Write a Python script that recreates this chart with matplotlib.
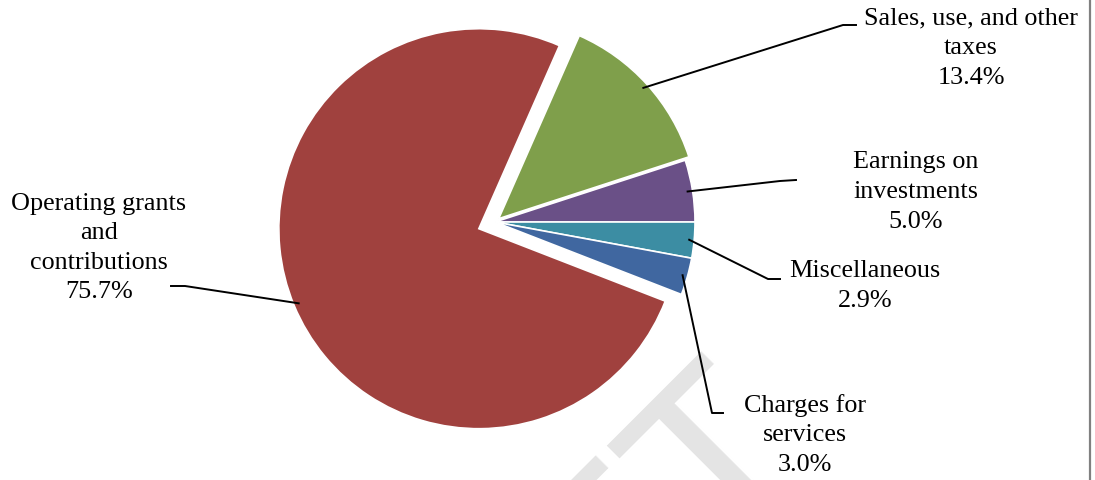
import matplotlib
matplotlib.use('Agg')
import matplotlib.pyplot as plt
import numpy as np

# revenue sources, clockwise from the top
labels = ['Sales, use, and other\ntaxes', 'Earnings on\ninvestments', 'Miscellaneous',
          'Charges for\nservices', 'Operating grants\nand\ncontributions']
shares = [13.4, 5.0, 2.9, 3.0, 75.7]
colors = ['#7F9F4B', '#6A5087', '#3C8DA3', '#4067A0', '#A0413E']
explode = [5, 0, 0, 0, 17.5]  # pixels

# label layout (pixels, y up): text centre, elbow, end of leader
text_pos = [(971, 432), (916, 288), (865, 194), (805, 45), (99, 232)]
elbows = [(843, 455), (780, 299), (768, 201), (712, 67), (185, 194)]
ends = [(856, 455), (796, 300), (780, 201), (723, 67), (171, 194)]

plt.rcParams['font.family'] = ['Liberation Serif', 'DejaVu Serif']

fig = plt.figure(figsize=(10.95, 4.8), dpi=100)
ax = fig.add_axes([0, 0, 1, 1])

# faint watermark
ax.text(694, 154, 'DRAFT', fontsize=170, family='Liberation Sans', color='#E4E4E4',
        rotation=45, rotation_mode='anchor', ha='right', va='top', zorder=0)

wedges, _ = ax.pie(shares, colors=colors, explode=explode, startangle=66.24,
                   counterclock=False, center=(495, 258), radius=200, frame=True,
                   wedgeprops=dict(edgecolor='white', linewidth=1.2))
ax.set_xlim(0, 1095)
ax.set_ylim(0, 480)
ax.axis('off')

for w, lab, s, tp, el, en in zip(wedges, labels, shares, text_pos, elbows, ends):
    mid = np.deg2rad((w.theta1 + w.theta2) / 2)
    cx, cy = w.center
    x0 = cx + w.r * 0.975 * np.cos(mid)
    y0 = cy + w.r * 0.975 * np.sin(mid)
    ax.plot([x0, el[0], en[0]], [y0, el[1], en[1]], color='black', lw=1.4, zorder=3)
    ax.text(tp[0], tp[1], f'{lab}\n{s:.1f}%', fontsize=18.8, ha='center', va='center',
            linespacing=1.45)

ax.plot([1090, 1090], [0, 480], color='#808080', lw=1.6, clip_on=False)

fig.savefig('out.png', dpi=100)
